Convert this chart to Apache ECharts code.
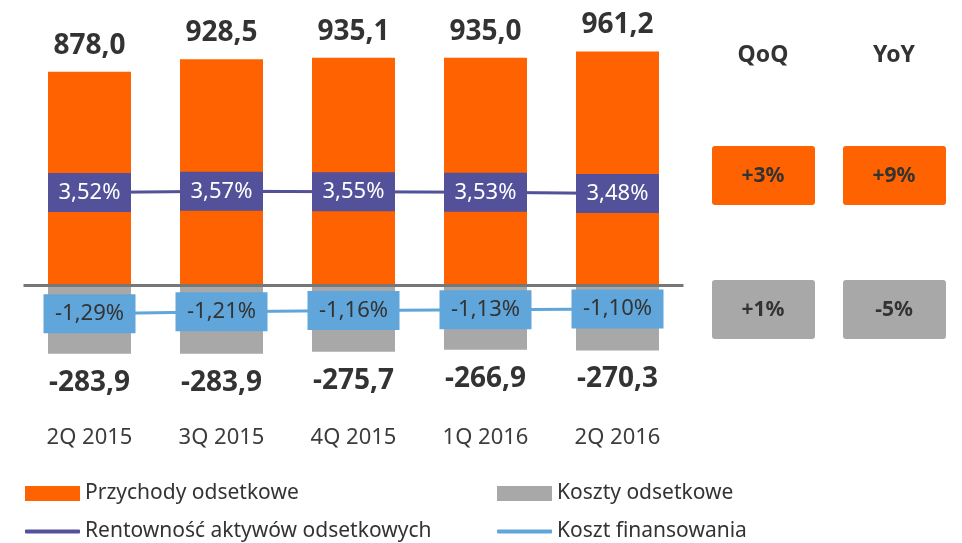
<!DOCTYPE html>
<html>
<head>
<meta charset="utf-8">
<script src="https://cdn.jsdelivr.net/npm/echarts@6/dist/echarts.min.js"></script>
<style>
  html, body { margin: 0; padding: 0; background: #fff; }
  #chart { width: 962px; height: 543px; }
</style>
</head>
<body>
<div id="chart"></div>
<script>
// dane
const quarters = ["2Q 2015", "3Q 2015", "4Q 2015", "1Q 2016", "2Q 2016"];
const przychody = [878.0, 928.5, 935.1, 935.0, 961.2];
const koszty = [-283.9, -283.9, -275.7, -266.9, -270.3];
const rentownosc = [3.52, 3.57, 3.55, 3.53, 3.48];
const kosztFin = [-1.29, -1.21, -1.16, -1.13, -1.10];
const zmianyNaglowki = ["QoQ", "YoY"];
const zmianyPrzychody = ["+3%", "+9%"];
const zmianyKoszty = ["+1%", "-5%"];

const ORANGE = "#FF6200";
const GREY = "#A8A8A8";
const PURPLE = "#525199";
const BLUE = "#60A6DA";
const TEXT = "#333333";
const FONT = "'Noto Sans', 'DejaVu Sans', sans-serif";

const fmt1 = (v) => v.toFixed(1).replace(".", ",");
const fmtPct = (v) => v.toFixed(2).replace(".", ",") + "%";

const chart = echarts.init(document.getElementById("chart"));

// panel po prawej: QoQ / YoY
const graphic = [];
const colX = [712, 843];
zmianyNaglowki.forEach((h, i) => {
  graphic.push({
    type: "text",
    x: colX[i] + 51, y: 55,
    style: { text: h, fill: TEXT, font: "bold 23px " + FONT, textAlign: "center", textVerticalAlign: "middle" }
  });
  graphic.push({
    type: "rect",
    shape: { x: colX[i], y: 146, width: 103, height: 59, r: 3 },
    style: { fill: ORANGE }
  });
  graphic.push({
    type: "text",
    x: colX[i] + 51, y: 176,
    style: { text: zmianyPrzychody[i], fill: TEXT, font: "bold 21px " + FONT, textAlign: "center", textVerticalAlign: "middle" }
  });
  graphic.push({
    type: "rect",
    shape: { x: colX[i], y: 280, width: 103, height: 59, r: 3 },
    style: { fill: GREY }
  });
  graphic.push({
    type: "text",
    x: colX[i] + 51, y: 310,
    style: { text: zmianyKoszty[i], fill: TEXT, font: "bold 21px " + FONT, textAlign: "center", textVerticalAlign: "middle" }
  });
});

const legendText = { color: TEXT, fontSize: 21, fontFamily: FONT };

const option = {
  animation: false,
  textStyle: { fontFamily: FONT },
  grid: { left: 23.5, top: 42, width: 660, height: 340, containLabel: false, outerBoundsMode: "none" },
  legend: [
    { data: [{ name: "Przychody odsetkowe", icon: "rect" }], left: 25, top: 483, padding: 0, itemWidth: 55, itemHeight: 15, itemGap: 5, textStyle: legendText },
    { data: [{ name: "Koszty odsetkowe", icon: "rect" }], left: 497, top: 483, padding: 0, itemWidth: 55, itemHeight: 15, itemGap: 5, textStyle: legendText },
    { data: [{ name: "Rentowność aktywów odsetkowych", icon: "roundRect" }], left: 25, top: 521, padding: 0, itemWidth: 55, itemHeight: 4, itemGap: 5, textStyle: legendText },
    { data: [{ name: "Koszt finansowania", icon: "roundRect" }], left: 497, top: 521, padding: 0, itemWidth: 55, itemHeight: 4, itemGap: 5, textStyle: legendText }
  ],
  xAxis: {
    type: "category",
    data: quarters,
    axisLine: { show: false },
    axisTick: { show: false },
    axisLabel: { color: "#3c3c3c", fontSize: 22, fontFamily: FONT, margin: 45 }
  },
  yAxis: [
    { type: "value", min: -400, max: 1000, show: false, splitLine: { show: false } },
    { type: "value", min: -4, max: 9.5, show: false, splitLine: { show: false } }
  ],
  series: [
    {
      name: "Przychody odsetkowe",
      type: "bar",
      stack: "wynik",
      data: przychody,
      barWidth: 83,
      itemStyle: { color: ORANGE },
      label: {
        show: true, position: "top", distance: 12,
        fontSize: 28, fontWeight: "bold", color: TEXT, fontFamily: FONT,
        formatter: (p) => fmt1(p.value)
      },
      markLine: {
        silent: true, symbol: "none", label: { show: false },
        lineStyle: { color: "#777777", width: 3, type: "solid" },
        data: [{ yAxis: 0 }]
      }
    },
    {
      name: "Koszty odsetkowe",
      type: "bar",
      stack: "wynik",
      data: koszty,
      barWidth: 83,
      itemStyle: { color: GREY },
      label: {
        show: true, position: "bottom", distance: 15,
        fontSize: 28, fontWeight: "bold", color: TEXT, fontFamily: FONT,
        formatter: (p) => fmt1(p.value)
      }
    },
    {
      name: "Rentowność aktywów odsetkowych",
      type: "line",
      yAxisIndex: 1,
      data: rentownosc,
      symbol: "rect",
      symbolSize: [83, 39],
      lineStyle: { color: PURPLE, width: 3 },
      itemStyle: { color: PURPLE, borderWidth: 0 },
      label: {
        show: true, position: "inside",
        color: "#ffffff", fontSize: 22, fontFamily: FONT,
        formatter: (p) => fmtPct(p.value)
      },
      z: 5
    },
    {
      name: "Koszt finansowania",
      type: "line",
      yAxisIndex: 1,
      data: kosztFin,
      symbol: "rect",
      symbolSize: [92, 39],
      lineStyle: { color: BLUE, width: 3 },
      itemStyle: { color: BLUE, borderWidth: 0 },
      label: {
        show: true, position: "inside",
        color: TEXT, fontSize: 22, fontFamily: FONT,
        formatter: (p) => fmtPct(p.value)
      },
      z: 5
    }
  ],
  graphic: graphic
};

chart.setOption(option);
</script>
</body>
</html>
